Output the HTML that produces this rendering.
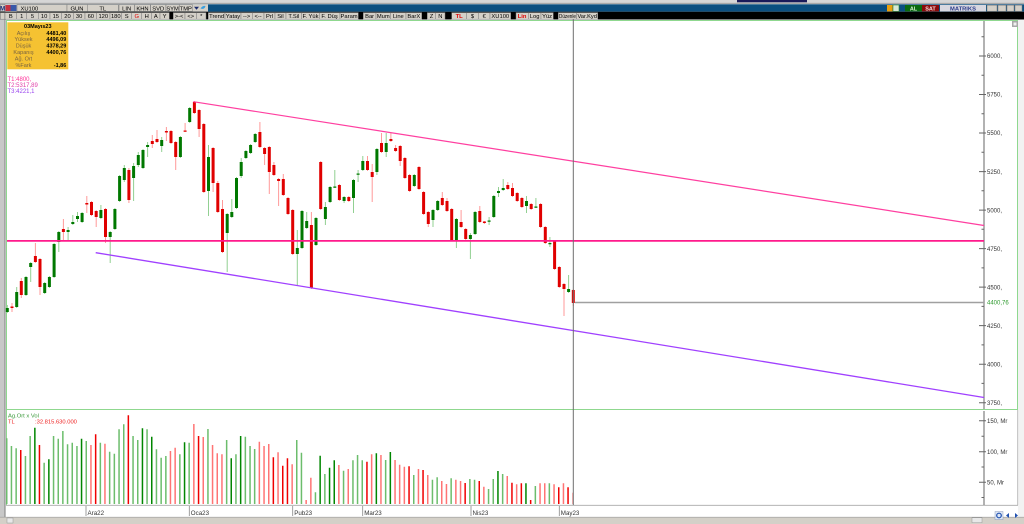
<!DOCTYPE html>
<html><head><meta charset="utf-8"><style>
html,body{margin:0;padding:0;background:#fff;}
svg{display:block;}
text{font-family:"Liberation Sans",sans-serif;}
.bt{fill:#d4d0c8;stroke:#7a7a7a;stroke-width:0.5;}
.tb{font-size:5.8px;fill:#000;text-anchor:middle;}
.ax{font-size:6px;fill:#333;}
</style></head><body>
<svg width="1024" height="524" viewBox="0 0 1024 524" xmlns="http://www.w3.org/2000/svg">
<rect x="0" y="0" width="1024" height="524" fill="#fff"/>
<!-- top strip -->
<rect x="0" y="0" width="1024" height="4.3" fill="#d6d6d6"/>
<line x1="0" y1="3.3" x2="1024" y2="3.3" stroke="#9a9a9a" stroke-width="0.8"/>
<rect x="737" y="0" width="70" height="2.3" fill="#1a1a5a"/>
<!-- row 1 -->
<rect x="0" y="4.3" width="1024" height="7.4" fill="#0b4f80"/>
<rect x="0" y="4.3" width="208" height="7.4" fill="#d4d0c8"/>
<rect class="bt" x="0.3" y="4.6" width="4.7" height="6.8" fill="#e8e8f0"/>
<text x="2.6" y="10.6" font-size="6px" font-weight="bold" fill="#1a2a7a" text-anchor="middle">M</text>
<rect x="5.5" y="5" width="5" height="6" fill="#c83040"/><rect x="10.5" y="5" width="6" height="6" fill="#3858a8"/>
<rect class="bt" x="17" y="4.6" width="50" height="6.8"/>
<text x="20.5" y="10.4" font-size="5.8px" fill="#000">XU100</text>
<rect class="bt" x="67" y="4.6" width="20.3" height="6.8"/><text class="tb" x="77" y="10.4">GUN</text>
<rect class="bt" x="87.3" y="4.6" width="31" height="6.8"/><text class="tb" x="102.8" y="10.4">TL</text>
<rect class="bt" x="119" y="4.6" width="15.5" height="6.8"/><text class="tb" x="126.7" y="10.4">LIN</text>
<rect class="bt" x="134.8" y="4.6" width="15.5" height="6.8"/><text class="tb" x="142.5" y="10.4">KHN</text>
<rect class="bt" x="150.6" y="4.6" width="15.3" height="6.8"/><text class="tb" x="158.2" y="10.4">SVD</text>
<rect class="bt" x="166" y="4.6" width="13.2" height="6.8"/><text class="tb" x="172.6" y="10.4">SYM</text>
<rect class="bt" x="179.3" y="4.6" width="13" height="6.8"/><text class="tb" x="185.8" y="10.4">TMP</text>
<path d="M194 6.8h5l-2.5 3z" fill="#1a2a6a"/>
<path d="M200.5 8.5q2-3 5-2.5q-1 4-5 2.5z" fill="#3aa0e0"/>
<!-- right icons row 1 -->
<rect x="887" y="5" width="5.6" height="6.4" fill="#e8a010"/>
<rect x="893" y="5" width="6" height="6.4" fill="#d8e8d8" stroke="#2a8a2a" stroke-width="0.6"/>
<rect x="905" y="5" width="17" height="6.4" fill="#0a6a10"/><text x="913.5" y="10.3" font-size="5.5px" font-weight="bold" fill="#d8f0d0" text-anchor="middle">AL</text>
<rect x="922" y="5" width="17" height="6.4" fill="#8a0a0a"/><text x="930.5" y="10.3" font-size="5.5px" font-weight="bold" fill="#f8e0e0" text-anchor="middle">SAT</text>
<rect x="940" y="5" width="46" height="6.4" fill="#d8d8e0"/><text x="963" y="10.4" font-size="5.8px" font-weight="bold" fill="#2a3a8a" text-anchor="middle">MATRIKS</text>
<rect class="bt" x="987" y="5.2" width="10" height="6"/><rect class="bt" x="998" y="5.2" width="8" height="6"/><rect class="bt" x="1007" y="5.2" width="7" height="6"/><rect class="bt" x="1015" y="5.2" width="7" height="6"/>
<!-- row 2 -->
<rect x="0" y="11.7" width="1024" height="7.8" fill="#000"/>
<g>
<rect class="bt" x="0.3" y="12.6" width="4.5" height="6.6"/>
<rect class="bt" x="5" y="12.6" width="11.7" height="6.6"/><text class="tb" x="10.8" y="17.9">B</text>
<rect class="bt" x="16.7" y="12.6" width="10" height="6.6"/><text class="tb" x="21.7" y="17.9">1</text>
<rect class="bt" x="26.7" y="12.6" width="11.6" height="6.6"/><text class="tb" x="32.5" y="17.9">5</text>
<rect class="bt" x="38.3" y="12.6" width="11.7" height="6.6"/><text class="tb" x="44.1" y="17.9">10</text>
<rect class="bt" x="50" y="12.6" width="11.7" height="6.6"/><text class="tb" x="55.8" y="17.9">15</text>
<rect class="bt" x="61.7" y="12.6" width="11.6" height="6.6"/><text class="tb" x="67.5" y="17.9">20</text>
<rect class="bt" x="73.3" y="12.6" width="11.7" height="6.6"/><text class="tb" x="79.1" y="17.9">30</text>
<rect class="bt" x="85" y="12.6" width="11.7" height="6.6"/><text class="tb" x="90.8" y="17.9">60</text>
<rect class="bt" x="96.7" y="12.6" width="13.3" height="6.6"/><text class="tb" x="103.3" y="17.9">120</text>
<rect class="bt" x="110" y="12.6" width="11.7" height="6.6"/><text class="tb" x="115.8" y="17.9">180</text>
<rect class="bt" x="121.7" y="12.6" width="10" height="6.6"/><text class="tb" x="126.7" y="17.9">S</text>
<rect class="bt" x="131.7" y="12.6" width="10" height="6.6"/><text class="tb" x="136.7" y="17.9" fill="#e00000" style="fill:#e00000">G</text>
<rect class="bt" x="141.7" y="12.6" width="10" height="6.6"/><text class="tb" x="146.7" y="17.9">H</text>
<rect class="bt" x="151.7" y="12.6" width="8.3" height="6.6"/><text class="tb" x="155.8" y="17.9">A</text>
<rect class="bt" x="160" y="12.6" width="9.3" height="6.6"/><text class="tb" x="164.6" y="17.9">Y</text>
<rect class="bt" x="173.3" y="12.6" width="11.7" height="6.6"/><text class="tb" x="179.1" y="17.9">&gt;-&lt;</text>
<rect class="bt" x="185" y="12.6" width="11.7" height="6.6"/><text class="tb" x="190.8" y="17.9">&lt;&gt;</text>
<rect class="bt" x="196.7" y="12.6" width="9.3" height="6.6"/><text class="tb" x="201.3" y="17.9">*</text>
<rect class="bt" x="208.3" y="12.6" width="16.7" height="6.6"/><text class="tb" x="216.6" y="17.9">Trend</text>
<rect class="bt" x="225" y="12.6" width="16" height="6.6"/><text class="tb" x="233" y="17.9">Yatay</text>
<rect class="bt" x="241" y="12.6" width="11.3" height="6.6"/><text class="tb" x="246.6" y="17.9">--&gt;</text>
<rect class="bt" x="252.3" y="12.6" width="11.7" height="6.6"/><text class="tb" x="258.1" y="17.9">&lt;--</text>
<rect class="bt" x="264" y="12.6" width="11" height="6.6"/><text class="tb" x="269.5" y="17.9">Prl</text>
<rect class="bt" x="275" y="12.6" width="11" height="6.6"/><text class="tb" x="280.5" y="17.9">Sil</text>
<rect class="bt" x="286" y="12.6" width="15.7" height="6.6"/><text class="tb" x="293.8" y="17.9">T.Sil</text>
<rect class="bt" x="301.7" y="12.6" width="17.6" height="6.6"/><text class="tb" x="310.5" y="17.9">F. Yük</text>
<rect class="bt" x="319.3" y="12.6" width="20.7" height="6.6"/><text class="tb" x="329.6" y="17.9">F. Düş</text>
<rect class="bt" x="340" y="12.6" width="18.3" height="6.6"/><text class="tb" x="349.1" y="17.9">Param</text>
<rect class="bt" x="363.3" y="12.6" width="12.7" height="6.6"/><text class="tb" x="369.6" y="17.9">Bar</text>
<rect class="bt" x="376" y="12.6" width="14.7" height="6.6"/><text class="tb" x="383.3" y="17.9">Mum</text>
<rect class="bt" x="390.7" y="12.6" width="15.3" height="6.6"/><text class="tb" x="398.3" y="17.9">Line</text>
<rect class="bt" x="406" y="12.6" width="15.7" height="6.6"/><text class="tb" x="413.8" y="17.9">BarX</text>
<rect class="bt" x="427.3" y="12.6" width="8.4" height="6.6"/><text class="tb" x="431.5" y="17.9">Z</text>
<rect class="bt" x="435.7" y="12.6" width="9.3" height="6.6"/><text class="tb" x="440.3" y="17.9">N</text>
<rect class="bt" x="451.7" y="12.6" width="15" height="6.6"/><text class="tb" x="459.2" y="17.9" style="fill:#e00000;font-weight:bold">TL</text>
<rect class="bt" x="466.7" y="12.6" width="11.6" height="6.6"/><text class="tb" x="472.5" y="17.9">$</text>
<rect class="bt" x="478.3" y="12.6" width="11.7" height="6.6"/><text class="tb" x="484.1" y="17.9">€</text>
<rect class="bt" x="490" y="12.6" width="20.7" height="6.6"/><text class="tb" x="500.3" y="17.9">XU100</text>
<rect class="bt" x="516" y="12.6" width="12.3" height="6.6"/><text class="tb" x="522.1" y="17.9" style="fill:#e00000;font-weight:bold">Lin</text>
<rect class="bt" x="528.3" y="12.6" width="12.7" height="6.6"/><text class="tb" x="534.6" y="17.9">Log</text>
<rect class="bt" x="541" y="12.6" width="12.3" height="6.6"/><text class="tb" x="547.1" y="17.9">Yüz</text>
<rect class="bt" x="558.3" y="12.6" width="18.4" height="6.6"/><text class="tb" x="567.5" y="17.9" textLength="17" lengthAdjust="spacingAndGlyphs">Düzenle</text>
<rect class="bt" x="576.7" y="12.6" width="21" height="6.6"/><text class="tb" x="587.2" y="17.9" textLength="19.5" lengthAdjust="spacingAndGlyphs">Var.Kyd</text>
</g>
<!-- chart frame -->
<rect x="0" y="19.5" width="6" height="505" fill="#c8c8c8"/>
<line x1="4.8" y1="19.5" x2="4.8" y2="517" stroke="#8c8c8c" stroke-width="0.8"/>
<rect x="1018" y="19.5" width="6" height="498" fill="#f2f2f2"/>
<line x1="6" y1="20.5" x2="1018" y2="20.5" stroke="#8fd88f" stroke-width="1"/>
<line x1="6.5" y1="20.5" x2="6.5" y2="505" stroke="#8fd88f" stroke-width="1"/>
<line x1="1017.5" y1="20.5" x2="1017.5" y2="409.5" stroke="#8fd88f" stroke-width="1"/>
<line x1="6" y1="409.5" x2="1018" y2="409.5" stroke="#8fd88f" stroke-width="1"/>
<line x1="1017.7" y1="410" x2="1017.7" y2="505" stroke="#b0b0b0" stroke-width="0.8"/>
<line x1="6" y1="505.3" x2="1018" y2="505.3" stroke="#a8a8a8" stroke-width="0.8"/>
<rect x="1012" y="21" width="6" height="6" fill="#a8a8a8"/><rect x="1013.5" y="22.5" width="3" height="3" fill="#f0f0f0"/>
<!-- bottom strip -->
<rect x="0" y="517" width="1024" height="7" fill="#d4d0c8"/>
<line x1="0" y1="517.2" x2="1024" y2="517.2" stroke="#9a9a9a" stroke-width="0.6"/>
<rect x="7" y="518" width="6" height="5" fill="#e8e8e8" stroke="#888" stroke-width="0.4"/>
<rect x="972" y="517.8" width="10" height="5" fill="#e8e8e8" stroke="#888" stroke-width="0.4"/>
<rect x="995" y="511.5" width="8" height="8" fill="#dde6f4" stroke="#7a8ab0" stroke-width="0.4"/>
<circle cx="999" cy="515.5" r="2.3" fill="none" stroke="#2050b0" stroke-width="1.2"/>
<path d="M1006 515.5l3-2.5v5z M1018 515.5l-3-2.5v5z" fill="#2050b0"/>

<!-- info box -->
<rect x="7.3" y="22.3" width="61" height="47" fill="#f5c232"/>
<g font-size="5.5px">
<text x="37.8" y="28" text-anchor="middle" font-weight="bold" fill="#000">03Mayıs23</text>
<g fill="#7a6440" text-anchor="middle">
<text x="23.5" y="35">Açılış</text>
<text x="23.5" y="41.2">Yüksek</text>
<text x="23.5" y="47.7">Düşük</text>
<text x="23.5" y="54.2">Kapanış</text>
<text x="23.5" y="60.5">Ağ. Ort</text>
<text x="23.5" y="67">%Fark</text>
</g>
<g fill="#000" text-anchor="end" font-weight="bold">
<text x="66.3" y="35">4481,40</text>
<text x="66.3" y="41.2">4496,09</text>
<text x="66.3" y="47.7">4378,29</text>
<text x="66.3" y="54.2">4400,76</text>
<text x="66.3" y="67">-1,86</text>
</g>
</g>
<text x="7.5" y="81" font-size="6px" fill="#ff3399">T1:4800,</text>
<text x="7.5" y="87.2" font-size="6px" fill="#e040a8">T2:5317,89</text>
<text x="7.5" y="93" font-size="6px" fill="#9944ee">T3:4221,1</text>

<!-- right price axis -->
<line x1="984" y1="21" x2="984" y2="409" stroke="#666" stroke-width="1"/>
<g stroke="#666" stroke-width="1">
<path d="M979 56H986M979 94.5H986M979 133H986M979 171.6H986M979 210.1H986M979 248.6H986M979 287.1H986M979 325.6H986M979 364.2H986M979 402.7H986"/>
<path d="M981.5 36.7H984M981.5 75.3H984M981.5 113.8H984M981.5 152.3H984M981.5 190.8H984M981.5 229.3H984M981.5 267.9H984M981.5 306.4H984M981.5 344.9H984M981.5 383.4H984"/>
</g>
<g class="ax">
<text x="987" y="58.2">6000,</text>
<text x="987" y="96.7">5750,</text>
<text x="987" y="135.2">5500,</text>
<text x="987" y="173.8">5250,</text>
<text x="987" y="212.3">5000,</text>
<text x="987" y="250.8">4750,</text>
<text x="987" y="289.3">4500,</text>
<text x="987" y="327.8">4250,</text>
<text x="987" y="366.4">4000,</text>
<text x="987" y="404.9">3750,</text>
</g>
<text x="987" y="304.7" font-size="6px" fill="#2e9a2e">4400,76</text>
<!-- volume axis -->
<line x1="984" y1="411" x2="984" y2="505" stroke="#666" stroke-width="1"/>
<path d="M979 420.7H986M979 451.7H986M979 482.3H986M981.5 436.2H984M981.5 467H984M981.5 497.5H984" stroke="#666" stroke-width="1"/>
<g class="ax">
<text x="987" y="422.9">150, Mr</text>
<text x="987" y="453.9">100, Mr</text>
<text x="987" y="484.5">50, Mr</text>
</g>
<text x="8" y="417.3" font-size="5.8px" fill="#3a9a3a">Ag.Ort x Vol</text>
<text x="8" y="423.3" font-size="5.8px" fill="#ee2020">TL</text>
<text x="35" y="423.3" font-size="5.8px" fill="#ee2020">:32.815.630.000</text>

<!-- date axis -->
<path d="M86 506V516M189.3 506V516M292.7 506V516M362.7 506V516M471 506V516M559.3 506V516" stroke="#888" stroke-width="0.8"/>
<g font-size="6.2px" fill="#333">
<text x="87.5" y="515">Ara22</text>
<text x="190.8" y="515">Oca23</text>
<text x="294.2" y="515">Pub23</text>
<text x="364.2" y="515">Mar23</text>
<text x="472.5" y="515">Nis23</text>
<text x="560.8" y="515">May23</text>
</g>

<!-- candle wicks -->
<path fill="none" stroke="#92d092" stroke-width="1" d="M7.3 305V313M16.7 287V308M26 276V296M30.7 262V282M44.7 282V294M49.4 276V288M54.1 243V278M58.8 231V252M68.1 227V240M72.8 215V225M77.5 212V222M82.1 212V223M100.9 205V219M110.2 231V263M114.9 208V230M119.6 175V202M124.3 165V182M133.6 163V201M138.3 152V167M143 149V169M147.6 142V157M161.7 137V152M180.4 136V158M189.7 107V123M208.5 145V216M227.2 213V272M231.8 199V218M236.5 177V209M241.2 158V178M245.9 150V159M250.6 144V154M255.2 133V143M297.3 230V285M302 210V249M306.7 212V229M316 217V246M325.4 202V225M330.1 186V203M334.8 170V188M344.1 196V203M353.5 179V213M358.1 170V182M362.8 156V171M376.9 148V175M386.2 133V157M414.3 174V187M433 209V227M437.7 200V211M456.4 218V248M470.4 233V259M475.1 211V235M489.1 217V225M493.8 195V218M498.5 187V197M503.2 179V191M526.5 196V213M535.9 198V208M549.9 237V247M568.6 275V293"/>
<path fill="none" stroke="#ff9a9a" stroke-width="1" d="M12 303V312M21.3 278V298M35.4 243V263M40 258V295M63.4 219V240M86.8 196V213M91.5 201V216M96.2 210V227M105.5 208V243M128.9 168V203M152.3 135V148M157 130V143M166.4 127V141M171 130V144M175.7 141V170M185.1 123V132M194.4 101V114M199.1 109V137M203.8 123V193M213.1 147V192M217.8 181V213M222.5 200V253M259.9 122V148M264.6 147V165M269.3 146V194M273.9 162V176M278.6 178V206M283.3 174V196M288 197V215M292.7 209V255M311.4 212V289M320.7 161V210M339.4 184V201M348.8 196V202M367.5 156V171M372.2 164V202M381.5 133V153M390.9 133V142M395.6 145V152M400.2 145V166M404.9 157V179M409.6 174V192M419 166V190M423.6 191V215M428.3 211V227M442.3 192V206M447 198V212M451.7 208V241M461.1 210V228M465.7 228V240M479.8 206V223M484.4 221V224M507.8 182V190M512.5 183V197M517.2 192V202M521.9 197V208M531.2 203V210M540.6 203V228M545.3 226V244M554.6 240V270M559.3 266V288M564 283V316M573.3 289V306"/>
<!-- candle bodies -->
<path fill="#007800" d="M5.8 308h3v4h-3zM15.2 292h3v15h-3zM24.5 277h3v18h-3zM29.2 263h3v4h-3zM43.2 283h3v10h-3zM47.9 277h3v10h-3zM52.6 244h3v33h-3zM57.3 232h3v10h-3zM66.6 230h3v2h-3zM71.3 222h3v2h-3zM76 216h3v3h-3zM80.6 213h3v9h-3zM99.4 210h3v8h-3zM108.7 232h3v5h-3zM113.4 209h3v20h-3zM118.1 176h3v25h-3zM122.8 168h3v12h-3zM132.1 166h3v12h-3zM136.8 155h3v10h-3zM141.5 150h3v18h-3zM146.1 145h3v2h-3zM160.2 140h3v6h-3zM178.9 137h3v20h-3zM188.2 108h3v14h-3zM207 157h3v34h-3zM225.7 214h3v19h-3zM230.3 212h3v5h-3zM235 178h3v30h-3zM239.7 162h3v14h-3zM244.4 151h3v7h-3zM249.1 145h3v8h-3zM253.7 134h3v8h-3zM295.8 248h3v6h-3zM300.5 211h3v37h-3zM305.2 221h3v7h-3zM314.5 218h3v27h-3zM323.9 207h3v12h-3zM328.6 187h3v15h-3zM333.3 186.5h3v1.2h-3zM342.6 197h3v4h-3zM352 180h3v18h-3zM356.6 173.5h3v1.2h-3zM361.3 161h3v9h-3zM375.4 149h3v23h-3zM384.7 143h3v9h-3zM412.8 175h3v11h-3zM431.5 210h3v10h-3zM436.2 201h3v9h-3zM454.9 219h3v21h-3zM468.9 235h3v4h-3zM473.6 212h3v22h-3zM487.6 220.5h3v1.2h-3zM492.3 196h3v21h-3zM497 191h3v2h-3zM501.7 188h3v2h-3zM525 201h3v5h-3zM534.4 206.5h3v1.2h-3zM548.4 243h3v1.2h-3zM567.1 289h3v3h-3z"/>
<path fill="#e00000" d="M10.5 306.5h3v1.5h-3zM19.8 281h3v14h-3zM33.9 256h3v6h-3zM38.5 259h3v28h-3zM61.9 229h3v3h-3zM85.3 203h3v1.5h-3zM90 202h3v13h-3zM94.7 211h3v6h-3zM104 209h3v28h-3zM127.4 170h3v30h-3zM150.8 141h3v3h-3zM155.5 139h3v3h-3zM164.9 131h3v1.5h-3zM169.5 131h3v12h-3zM174.2 142h3v15h-3zM183.6 130.5h3v1.2h-3zM192.9 102h3v11h-3zM197.6 110h3v19h-3zM202.3 124h3v68h-3zM211.6 148h3v35h-3zM216.3 183h3v29h-3zM221 209h3v43h-3zM258.4 132h3v15h-3zM263.1 148h3v6h-3zM267.8 147h3v25h-3zM272.4 165h3v10h-3zM277.1 179h3v2h-3zM281.8 179h3v16h-3zM286.5 198h3v16h-3zM291.2 210h3v44h-3zM309.9 225h3v63h-3zM319.2 162h3v47h-3zM337.9 185h3v15h-3zM347.3 197h3v4h-3zM366 161h3v9h-3zM370.7 172h3v5h-3zM380 143h3v9h-3zM389.4 139h3v2h-3zM394.1 148h3v3h-3zM398.7 146h3v15h-3zM403.4 158h3v20h-3zM408.1 175h3v16h-3zM417.5 167h3v22h-3zM422.1 192h3v22h-3zM426.8 212h3v12h-3zM440.8 198h3v7h-3zM445.5 201h3v10h-3zM450.2 209h3v31h-3zM459.6 222h3v5h-3zM464.2 229h3v10h-3zM478.3 211h3v11h-3zM482.9 221.5h3v1.5h-3zM506.3 185h3v4h-3zM511 188h3v8h-3zM515.7 193h3v8h-3zM520.4 198h3v9h-3zM529.7 204h3v5h-3zM539.1 204h3v23h-3zM543.8 227h3v16h-3zM553.1 241h3v28h-3zM557.8 267h3v20h-3zM562.5 284h3v5h-3zM571.8 290h3v13h-3z"/>

<!-- volume bars -->
<path fill="#6cbd6c" d="M6 438.3h1.5V504h-1.5zM10.7 446h1.5V504h-1.5zM15.4 448.3h1.5V504h-1.5zM24.7 456h1.5V504h-1.5zM29.4 436h1.5V504h-1.5zM43.4 462.7h1.5V504h-1.5zM52.8 436h1.5V504h-1.5zM57.5 438.7h1.5V504h-1.5zM62.1 431h1.5V504h-1.5zM66.8 444.3h1.5V504h-1.5zM71.5 442.7h1.5V504h-1.5zM76.2 446h1.5V504h-1.5zM85.5 441h1.5V504h-1.5zM99.6 442.7h1.5V504h-1.5zM108.9 451.7h1.5V504h-1.5zM113.6 453.7h1.5V504h-1.5zM118.3 429.3h1.5V504h-1.5zM123 424.3h1.5V504h-1.5zM132.3 436h1.5V504h-1.5zM137 440h1.5V504h-1.5zM146.3 429.3h1.5V504h-1.5zM155.7 449.3h1.5V504h-1.5zM160.4 457.7h1.5V504h-1.5zM165.1 456h1.5V504h-1.5zM179.1 454.3h1.5V504h-1.5zM188.4 442.7h1.5V504h-1.5zM207.2 429h1.5V504h-1.5zM225.9 440h1.5V504h-1.5zM235.2 454.3h1.5V504h-1.5zM244.6 436.7h1.5V504h-1.5zM249.3 446h1.5V504h-1.5zM253.9 449h1.5V504h-1.5zM296 440h1.5V504h-1.5zM300.7 452.7h1.5V504h-1.5zM314.7 492.3h1.5V504h-1.5zM324.1 474h1.5V504h-1.5zM342.8 470.7h1.5V504h-1.5zM352.2 460.3h1.5V504h-1.5zM356.8 455h1.5V504h-1.5zM361.5 460.3h1.5V504h-1.5zM384.9 460h1.5V504h-1.5zM413 475h1.5V504h-1.5zM431.7 479.7h1.5V504h-1.5zM436.4 477.3h1.5V504h-1.5zM450.4 478.3h1.5V504h-1.5zM469.1 479h1.5V504h-1.5zM473.8 479.7h1.5V504h-1.5zM487.8 489h1.5V504h-1.5zM492.5 479h1.5V504h-1.5zM501.9 474h1.5V504h-1.5zM534.6 486h1.5V504h-1.5zM548.6 483.3h1.5V504h-1.5z"/>
<path fill="#008600" d="M34.1 427.7h1.5V504h-1.5zM48.1 459.3h1.5V504h-1.5zM80.8 438.7h1.5V504h-1.5zM141.7 428.3h1.5V504h-1.5zM151 436.7h1.5V504h-1.5zM183.8 442.3h1.5V504h-1.5zM230.5 458.3h1.5V504h-1.5zM239.9 436h1.5V504h-1.5zM319.4 455.7h1.5V504h-1.5zM328.8 467.7h1.5V504h-1.5zM333.5 460.3h1.5V504h-1.5zM375.6 453.3h1.5V504h-1.5zM389.6 452h1.5V504h-1.5zM497.2 471h1.5V504h-1.5zM525.2 483.3h1.5V504h-1.5z"/>
<path fill="#f00000" d="M20 450h1.5V504h-1.5zM38.7 445h1.5V504h-1.5zM94.9 434.3h1.5V504h-1.5zM127.6 415.3h1.5V504h-1.5zM197.8 436h1.5V504h-1.5zM272.6 457.3h1.5V504h-1.5zM282 465.7h1.5V504h-1.5zM286.7 458.3h1.5V504h-1.5zM366.2 461.7h1.5V504h-1.5zM408.3 466.3h1.5V504h-1.5zM422.3 470h1.5V504h-1.5zM464.4 483h1.5V504h-1.5zM478.5 481h1.5V504h-1.5zM511.2 482.7h1.5V504h-1.5zM520.6 483.3h1.5V504h-1.5zM529.9 500h1.5V504h-1.5zM558 487.3h1.5V504h-1.5zM567.3 487.3h1.5V504h-1.5z"/>
<path fill="#ff7474" d="M90.2 445h1.5V504h-1.5zM104.2 443.7h1.5V504h-1.5zM169.7 451h1.5V504h-1.5zM174.4 447.7h1.5V504h-1.5zM193.1 424h1.5V504h-1.5zM202.5 437h1.5V504h-1.5zM211.8 445h1.5V504h-1.5zM216.5 453.3h1.5V504h-1.5zM221.2 454.3h1.5V504h-1.5zM258.6 441.7h1.5V504h-1.5zM263.3 446h1.5V504h-1.5zM268 444h1.5V504h-1.5zM277.3 452.3h1.5V504h-1.5zM291.4 464.3h1.5V504h-1.5zM305.4 500h1.5V504h-1.5zM310.1 477.7h1.5V504h-1.5zM338.1 465h1.5V504h-1.5zM347.5 469h1.5V504h-1.5zM370.9 454.3h1.5V504h-1.5zM380.2 455h1.5V504h-1.5zM394.3 460h1.5V504h-1.5zM398.9 464.7h1.5V504h-1.5zM403.6 466.7h1.5V504h-1.5zM417.7 469h1.5V504h-1.5zM427 475h1.5V504h-1.5zM441 481h1.5V504h-1.5zM445.7 484h1.5V504h-1.5zM455.1 479.7h1.5V504h-1.5zM459.8 481h1.5V504h-1.5zM483.1 486.7h1.5V504h-1.5zM506.5 476h1.5V504h-1.5zM515.9 484.3h1.5V504h-1.5zM539.3 483.3h1.5V504h-1.5zM544 483.3h1.5V504h-1.5zM553.3 484.3h1.5V504h-1.5zM562.7 483.3h1.5V504h-1.5z"/>
<path fill="#ffb4b4" d="M572 492.7h1.5V504h-1.5z"/>

<!-- drawn lines -->
<line x1="7" y1="240.9" x2="984" y2="240.9" stroke="#ff1a8c" stroke-width="1.8"/>
<line x1="193.3" y1="101.7" x2="984" y2="225.5" stroke="#ff3fa0" stroke-width="1.2"/>
<line x1="95.7" y1="252.7" x2="984" y2="397.5" stroke="#a040ff" stroke-width="1.3"/>
<line x1="575" y1="302.5" x2="984" y2="302.5" stroke="#a0a0a0" stroke-width="1.4"/>
<line x1="573.3" y1="19" x2="573.3" y2="505" stroke="#6e6e6e" stroke-width="1"/>
</svg>
</body></html>
